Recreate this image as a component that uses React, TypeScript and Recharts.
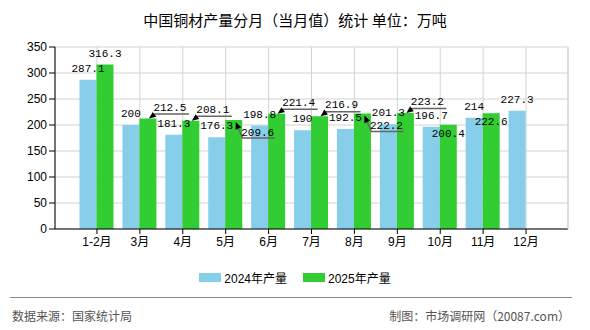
import { BarChart, Bar, XAxis, YAxis, CartesianGrid, LabelList } from 'recharts';

// 铜材产量（万吨）
const months = ['1-2月', '3月', '4月', '5月', '6月', '7月', '8月', '9月', '10月', '11月', '12月'];
const output2024 = [287.1, 200, 181.3, 176.3, 198.8, 190, 192.5, 201.3, 196.7, 214, 227.3];
const output2025 = [316.3, 212.5, 208.1, 209.6, 221.4, 216.9, 222.2, 223.2, 200.4, 222.6, null];
const yTicks = [0, 50, 100, 150, 200, 250, 300, 350];

// where each 2025 value label goes so it clears its neighbours
const labelPlacement2025 = ['top', 'up', 'up', 'down', 'up', 'up', 'down', 'up', 'inside', 'inside', 'top'];

const BLUE = '#87ceeb';
const GREEN = '#32cd32';
const LABEL_FONT = "'Liberation Mono', 'DejaVu Sans Mono', monospace";
const CJK_FONT = "'Liberation Sans', 'Noto Sans CJK SC', sans-serif";

const data = months.map((m, i) => ({
  month: m,
  y2024: output2024[i],
  y2025: output2025[i],
}));

function TopLabel(props: any) {
  const { x, y, width, value } = props;
  if (value == null) return null;
  return (
    <text x={x + width / 2} y={y - 8} textAnchor="middle" fontSize={11} fontFamily={LABEL_FONT} fill="#000">
      {value}
    </text>
  );
}

function LeaderLabel(props: any) {
  const { x, y, width, value, index } = props;
  if (value == null) return null;
  const xc = x + width / 2;
  const mode = labelPlacement2025[index];
  const textProps = { fontSize: 11, fontFamily: LABEL_FONT, fill: '#000', textAnchor: 'middle' as const };

  if (mode === 'inside') {
    return <text x={xc} y={y + 12} {...textProps}>{value}</text>;
  }
  if (mode === 'up') {
    return (
      <g>
        <polyline points={`${xc + 5},${y - 3} ${xc + 7},${y - 4.5} ${xc + 41},${y - 4.5}`} fill="none" stroke="#666" strokeWidth={1.5} />
        <polygon points={`${xc + 1},${y} ${xc + 8.4},${y - 1.8} ${xc + 4.8},${y - 6.6}`} fill="#000" />
        <text x={xc + 22} y={y - 8} {...textProps}>{value}</text>
      </g>
    );
  }
  if (mode === 'down') {
    return (
      <g>
        <polyline points={`${xc + 4},${y + 7} ${xc + 9},${y + 18} ${xc + 41},${y + 18}`} fill="none" stroke="#666" strokeWidth={1.5} />
        <polygon points={`${xc + 2},${y + 2} ${xc + 1.9},${y + 9.7} ${xc + 7.5},${y + 7.3}`} fill="#000" />
        <text x={xc + 24} y={y + 16} {...textProps}>{value}</text>
      </g>
    );
  }
  return <text x={xc} y={y - 8} {...textProps}>{value}</text>;
}

function LegendItem({ color, label }: { color: string; label: string }) {
  return (
    <div style={{ display: 'flex', alignItems: 'center', gap: 3 }}>
      <div style={{ width: 22, height: 9, background: color }} />
      <span>{label}</span>
    </div>
  );
}

export default function App() {
  return (
    <div style={{ position: 'absolute', left: 0, top: 0, width: 590, height: 330, background: '#fff', fontFamily: CJK_FONT }}>
      <div style={{ position: 'absolute', top: 9, left: 0, width: 590, textAlign: 'center', fontSize: 15, color: '#000', fontFamily: "'Noto Sans CJK SC', sans-serif" }}>
        中国铜材产量分月（当月值）统计 单位：万吨
      </div>

      <BarChart
        width={590}
        height={330}
        data={data}
        margin={{ top: 47, right: 21, bottom: 81, left: 0 }}
        barSize={17}
        barGap={0}
      >
        <CartesianGrid stroke="#d3d3d3" />
        <XAxis
          dataKey="month"
          interval={0}
          padding={{ left: 20.5, right: 20.5 }}
          height={20}
          axisLine={{ stroke: '#000' }}
          tickLine={{ stroke: '#000' }}
          tickSize={5}
          tickMargin={3}
          tick={{ fill: '#000', fontSize: 12, fontFamily: CJK_FONT }}
        />
        <YAxis
          domain={[0, 350]}
          ticks={yTicks}
          width={55}
          axisLine={{ stroke: '#000' }}
          tickLine={{ stroke: '#000' }}
          tickSize={6}
          tickMargin={2}
          tick={{ fill: '#000', fontSize: 12, fontFamily: CJK_FONT }}
        />
        <YAxis
          yAxisId="frame"
          orientation="right"
          domain={[0, 1]}
          width={1}
          tick={false}
          tickLine={false}
          axisLine={{ stroke: '#d3d3d3' }}
        />
        <Bar dataKey="y2024" name="2024年产量" fill={BLUE} isAnimationActive={false}>
          <LabelList dataKey="y2024" content={TopLabel} />
        </Bar>
        <Bar dataKey="y2025" name="2025年产量" fill={GREEN} isAnimationActive={false}>
          <LabelList dataKey="y2025" content={LeaderLabel} />
        </Bar>
      </BarChart>

      <div style={{ position: 'absolute', top: 269, left: 0, width: 590, display: 'flex', justifyContent: 'center', gap: 16, fontSize: 12, color: '#000' }}>
        <LegendItem color={BLUE} label="2024年产量" />
        <LegendItem color={GREEN} label="2025年产量" />
      </div>

      <div style={{ position: 'absolute', top: 297, left: 10, width: 562, height: 0, borderTop: '1.5px solid #888' }} />
      <div style={{ position: 'absolute', top: 307, left: 12, fontSize: 12, color: '#555', fontFamily: "'Noto Sans CJK SC', sans-serif" }}>
        数据来源：国家统计局
      </div>
      <div style={{ position: 'absolute', top: 307, right: 20, fontSize: 12, color: '#555', fontFamily: "'Noto Sans CJK SC', sans-serif" }}>
        制图：市场调研网（20087.com）
      </div>
    </div>
  );
}
